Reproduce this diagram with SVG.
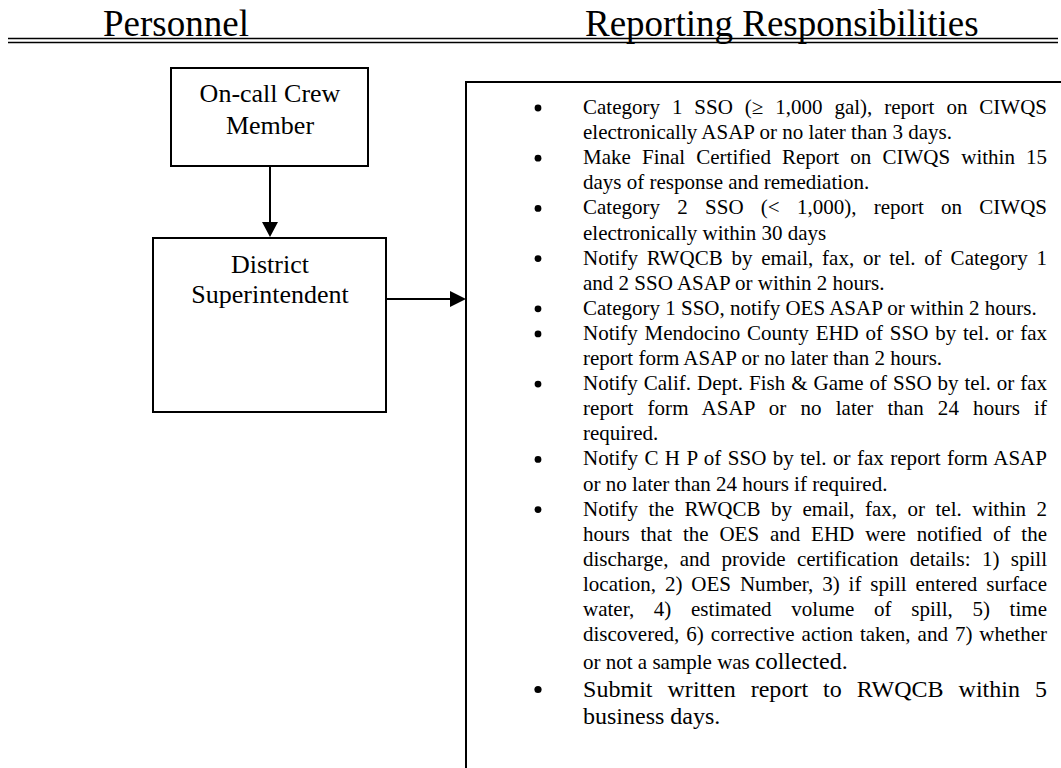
<svg xmlns="http://www.w3.org/2000/svg" width="1061" height="768" viewBox="0 0 1061 768">
<style>
  .h { font-family: "Liberation Serif", "Times New Roman", serif; font-size: 37px; fill: #000; }
  .n { font-family: "Liberation Serif", "Times New Roman", serif; font-size: 26px; fill: #000; text-anchor: middle; }
  .t { font-family: "Liberation Serif", "Times New Roman", serif; font-size: 21px; fill: #000; }
  .tl { font-family: "Liberation Serif", "Times New Roman", serif; font-size: 24px; fill: #000; }
  .dot { fill: #000; stroke: none; }
  .box { fill: #fff; stroke: #000; stroke-width: 2; }
  .rule { stroke: #000; stroke-width: 1.7; }
  .conn { stroke: #000; stroke-width: 2; fill: none; }
  .head { fill: #000; stroke: none; }
</style>
<rect x="0" y="0" width="1061" height="768" fill="#fff"/>

<g id="header">
  <text class="h" x="103" y="36">Personnel</text>
  <text class="h" x="585" y="36">Reporting Responsibilities</text>
  <line class="rule" x1="8" y1="38.5" x2="1058" y2="38.5"/>
  <line class="rule" x1="8" y1="42.5" x2="1058" y2="42.5"/>
</g>

<g id="connectors">
  <line class="conn" x1="270" y1="166" x2="270" y2="223"/>
  <polygon class="head" points="262,222 278,222 270,237"/>
  <line class="conn" x1="386" y1="299" x2="451" y2="299"/>
  <polygon class="head" points="450,291 450,307 466,299"/>
</g>

<g id="node-oncall">
  <rect class="box" x="171" y="68" width="197" height="98"/>
  <text class="n" x="270" y="102">On-call Crew</text>
  <text class="n" x="270" y="134">Member</text>
</g>

<g id="node-superintendent">
  <rect class="box" x="153" y="238" width="233" height="174"/>
  <text class="n" x="270" y="273">District</text>
  <text class="n" x="270" y="303">Superintendent</text>
</g>

<g id="node-responsibilities">
  <rect class="box" x="466" y="82" width="700" height="800"/>
  <g id="bullets">
    <circle class="dot" cx="538" cy="108" r="3.4"/>
    <circle class="dot" cx="538" cy="158.2" r="3.4"/>
    <circle class="dot" cx="538" cy="208.4" r="3.4"/>
    <circle class="dot" cx="538" cy="258.6" r="3.4"/>
    <circle class="dot" cx="538" cy="308.8" r="3.4"/>
    <circle class="dot" cx="538" cy="333.9" r="3.4"/>
    <circle class="dot" cx="538" cy="384.1" r="3.4"/>
    <circle class="dot" cx="538" cy="459.4" r="3.4"/>
    <circle class="dot" cx="538" cy="509.6" r="3.4"/>
    <circle class="dot" cx="538" cy="689.5" r="3.6"/>
  </g>
  <text class="t" x="583" y="114" textLength="464" lengthAdjust="spacing" word-spacing="6.7">Category 1 SSO (≥ 1,000 gal), report on CIWQS</text>
  <text class="t" x="583" y="139.1">electronically ASAP or no later than 3 days.</text>
  <text class="t" x="583" y="164.2" textLength="464" lengthAdjust="spacing" word-spacing="5.87">Make Final Certified Report on CIWQS within 15</text>
  <text class="t" x="583" y="189.3">days of response and remediation.</text>
  <text class="t" x="583" y="214.4" textLength="464" lengthAdjust="spacing" word-spacing="12">Category 2 SSO (&lt; 1,000), report on CIWQS</text>
  <text class="t" x="583" y="239.5">electronically within 30 days</text>
  <text class="t" x="583" y="264.6" textLength="464" lengthAdjust="spacing" word-spacing="3.47">Notify RWQCB by email, fax, or tel. of Category 1</text>
  <text class="t" x="583" y="289.7">and 2 SSO ASAP or within 2 hours.</text>
  <text class="t" x="583" y="314.8">Category 1 SSO, notify OES ASAP or within 2 hours.</text>
  <text class="t" x="583" y="339.9" textLength="464" lengthAdjust="spacing" word-spacing="1.52">Notify Mendocino County EHD of SSO by tel. or fax</text>
  <text class="t" x="583" y="365">report form ASAP or no later than 2 hours.</text>
  <text class="t" x="583" y="390.1" textLength="464" lengthAdjust="spacing" word-spacing="0.72">Notify Calif. Dept. Fish &amp; Game of SSO by tel. or fax</text>
  <text class="t" x="583" y="415.2" textLength="464" lengthAdjust="spacing" word-spacing="8.85">report form ASAP or no later than 24 hours if</text>
  <text class="t" x="583" y="440.3">required.</text>
  <text class="t" x="583" y="465.4" textLength="464" lengthAdjust="spacing" word-spacing="1.09">Notify C H P of SSO by tel. or fax report form ASAP</text>
  <text class="t" x="583" y="490.5">or no later than 24 hours if required.</text>
  <text class="t" x="583" y="515.6" textLength="464" lengthAdjust="spacing" word-spacing="5.15">Notify the RWQCB by email, fax, or tel. within 2</text>
  <text class="t" x="583" y="540.7" textLength="464" lengthAdjust="spacing" word-spacing="5.61">hours that the OES and EHD were notified of the</text>
  <text class="t" x="583" y="565.8" textLength="464" lengthAdjust="spacing" word-spacing="6.08">discharge, and provide certification details: 1) spill</text>
  <text class="t" x="583" y="590.9" textLength="464" lengthAdjust="spacing" word-spacing="3.61">location, 2) OES Number, 3) if spill entered surface</text>
  <text class="t" x="583" y="616" textLength="464" lengthAdjust="spacing" word-spacing="14.4">water, 4) estimated volume of spill, 5) time</text>
  <text class="t" x="583" y="641.1" textLength="464" lengthAdjust="spacing" word-spacing="1.73">discovered, 6) corrective action taken, and 7) whether</text>
  <text class="t" x="583" y="668.9">or not a sample was <tspan font-size="24px">collected.</tspan></text>
  <text class="tl" x="583" y="696.5" textLength="464" lengthAdjust="spacing" word-spacing="8.9">Submit written report to RWQCB within 5</text>
  <text class="tl" x="583" y="724.1">business days.</text>
</g>
</svg>
